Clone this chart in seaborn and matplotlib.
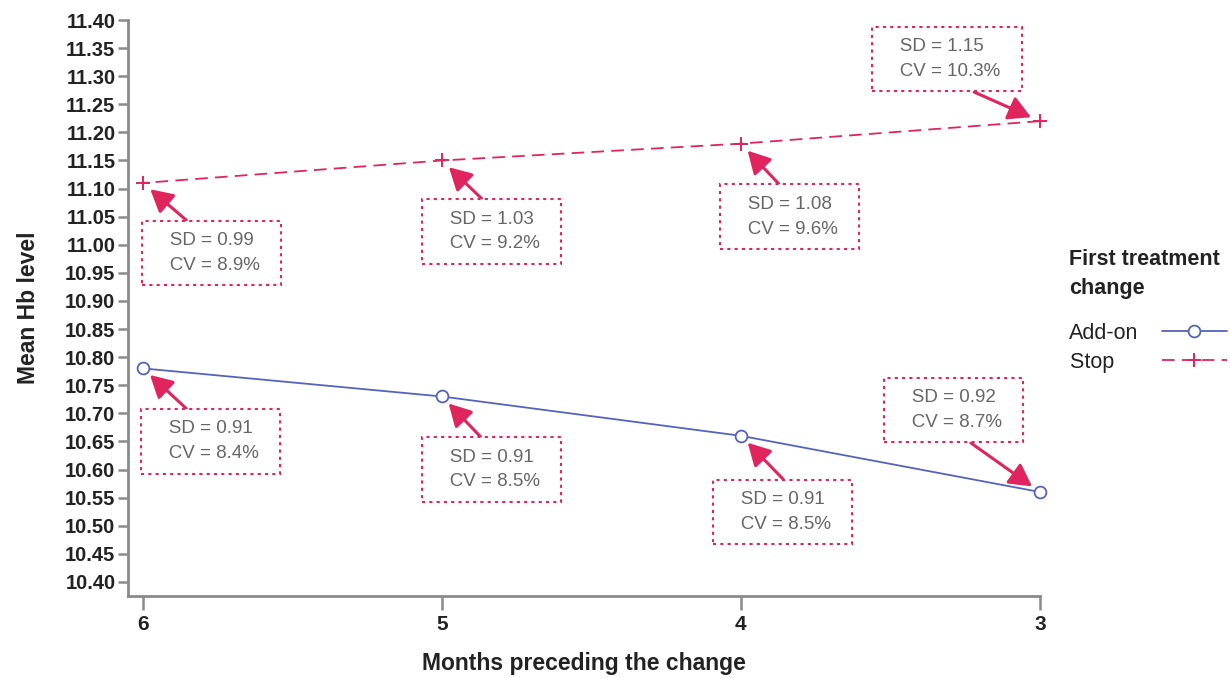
import numpy as np
import pandas as pd
import matplotlib.pyplot as plt
import seaborn as sns

# data
months = [6, 5, 4, 3]
addon_hb = [10.78, 10.73, 10.66, 10.56]
stop_hb = [11.11, 11.15, 11.18, 11.22]
addon_sd = [0.91, 0.91, 0.91, 0.92]
addon_cv = [8.4, 8.5, 8.5, 8.7]
stop_sd = [0.99, 1.03, 1.08, 1.15]
stop_cv = [8.9, 9.2, 9.6, 10.3]
yticks = np.round(np.arange(10.40, 11.401, 0.05), 2)

blue = "#5563bd"
red = "#e0245e"
grey = "#8a8a8a"
dark = "#222222"

sns.set_style("white")
plt.rcParams['font.family'] = ['Liberation Sans', 'DejaVu Sans']

df = pd.DataFrame({
    "month": months * 2,
    "hb": addon_hb + stop_hb,
    "change": ["Add-on"] * 4 + ["Stop"] * 4,
})

fig = plt.figure(figsize=(12.3, 6.78), dpi=100)
ax = fig.add_axes([0.104, 0.121, 0.7415, 0.8495])

sns.lineplot(data=df[df.change == "Add-on"], x="month", y="hb", ax=ax,
             color=blue, lw=1.3, marker="o", markersize=8.5,
             markerfacecolor="white", markeredgecolor=blue,
             markeredgewidth=1.3, label="Add-on", clip_on=False)
sns.lineplot(data=df[df.change == "Stop"], x="month", y="hb", ax=ax,
             color=red, lw=1.3, ls=(0, (7, 4)), marker="+", markersize=10,
             markeredgecolor=red, markeredgewidth=1.4, label="Stop",
             clip_on=False)

ax.set_xlim(6.05, 3)
ax.set_ylim(10.375, 11.40)
ax.set_xticks(months)
ax.set_yticks(yticks)
ax.set_yticklabels([f"{v:.2f}" for v in yticks])

for s in ["top", "right"]:
    ax.spines[s].set_visible(False)
for s in ["left", "bottom"]:
    ax.spines[s].set_color(grey)
    ax.spines[s].set_linewidth(2)
ax.tick_params(axis="both", which="major", bottom=True, left=True,
               direction="out", length=7, width=1.8, color=grey,
               labelsize=14.5, pad=2)
ax.tick_params(axis="x", length=10, pad=4, labelsize=15)
for lbl in ax.get_xticklabels() + ax.get_yticklabels():
    lbl.set_fontweight("bold")
    lbl.set_color(dark)

ax.set_xlabel("Months preceding the change", fontsize=16.5, fontweight="bold",
              color=dark, labelpad=13)
ax.set_ylabel("Mean Hb level", fontsize=16.5, fontweight="bold",
              color=dark, labelpad=18)

# annotation boxes (offsets in pixels)
stop_off = [(69, -70), (50, -71), (49, -73), (-93, 62)]
addon_off = [(68, -73), (50, -73), (42, -76), (-86, 82)]
stop_rel = [(0.4, 1), (0.52, 1), (0.5, 1), (0.5, 0)]
addon_rel = [(0.4, 1), (0.5, 1), (0.6, 1), (0.5, 0)]


def add_box(x, y, sd, cv, off, rel):
    txt = f"   SD = {sd:.2f}  \n   CV = {cv:.1f}%  "
    ax.annotate(txt, xy=(x, y), xytext=off, textcoords="offset pixels",
                ha="center", va="center", multialignment="left",
                fontsize=13.5, color="#666666", linespacing=1.6,
                bbox=dict(boxstyle="square,pad=0.6", fc="white",
                          ec=red, ls=(0, (1.5, 2)), lw=1.5),
                arrowprops=dict(arrowstyle="-|>,head_length=1.0,head_width=0.55",
                                color=red, lw=2.2, relpos=rel,
                                shrinkA=0, shrinkB=7),
                annotation_clip=False)


for i, m in enumerate(months):
    add_box(m, stop_hb[i], stop_sd[i], stop_cv[i], stop_off[i], stop_rel[i])
    add_box(m, addon_hb[i], addon_sd[i], addon_cv[i], addon_off[i], addon_rel[i])

ax.get_legend().remove()
handles, labels = ax.get_legend_handles_labels()
# pad the shorter label so both line samples start at the same x
labels = [l + "    " * (l == "Stop") for l in labels]
leg = fig.legend(handles, labels, title="First treatment\nchange",
                 loc="upper left", bbox_to_anchor=(0.869, 0.633),
                 frameon=False, fontsize=15.5, borderpad=0, borderaxespad=0,
                 title_fontproperties={"weight": "bold", "size": 15.5},
                 alignment="left", markerfirst=False, handlelength=3.0,
                 handletextpad=1.1, labelspacing=0.35)
leg.get_title().set_linespacing(1.5)
leg.get_title().set_color(dark)
for t in leg.get_texts():
    t.set_color(dark)
leg._legend_box.sep = 0.35 * 15.5 + 12

plt.savefig("out.png", dpi=100)
